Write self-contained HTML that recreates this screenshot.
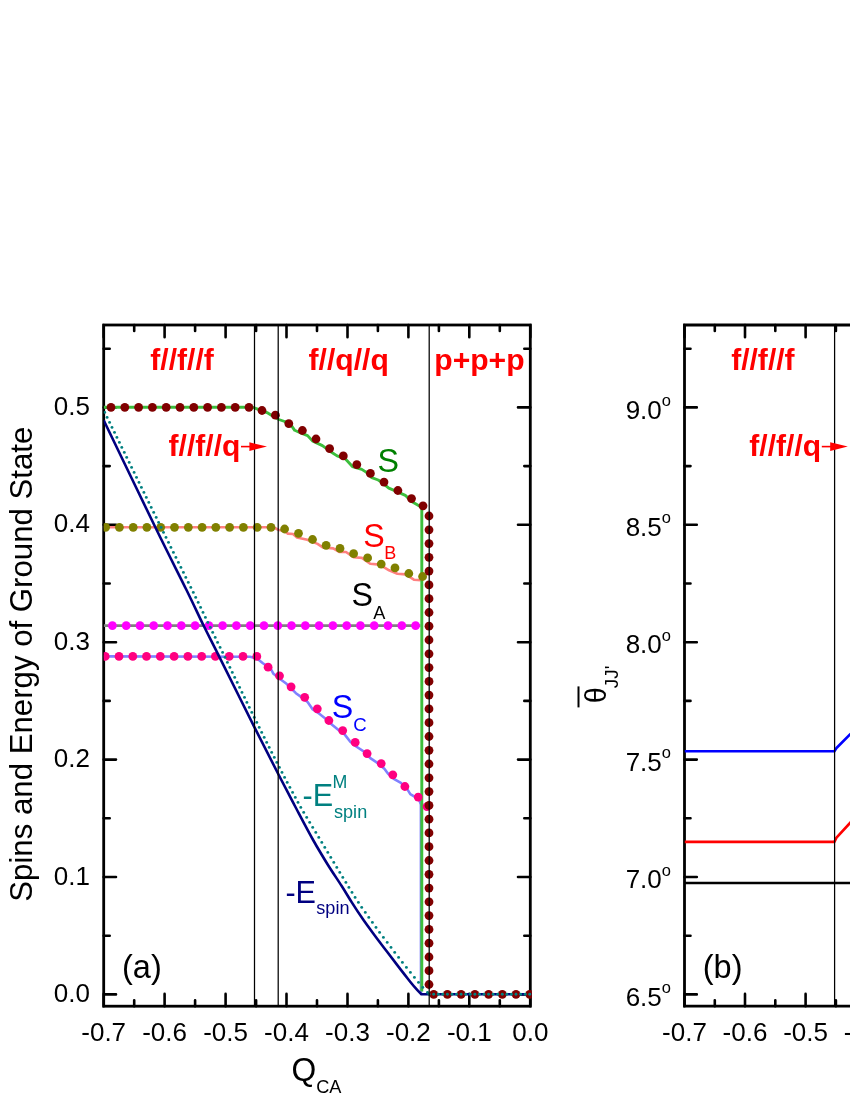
<!DOCTYPE html>
<html><head><meta charset="utf-8"><title>Figure</title>
<style>html,body{margin:0;padding:0;background:#fff}svg{display:block;will-change:transform}text{font-family:"Liberation Sans",sans-serif}</style></head>
<body>
<svg width="850" height="1100" viewBox="0 0 850 1100">
<rect width="850" height="1100" fill="#fff"/>
<defs><clipPath id="ca"><rect x="103.7" y="325.0" width="428.1" height="681.2"/></clipPath>
<clipPath id="cb"><rect x="684.5" y="325.0" width="200" height="681.2"/></clipPath></defs>
<rect x="103.7" y="325.0" width="426.6" height="681.2" fill="none" stroke="#000" stroke-width="2.8"/>
<path d="M103.7 325.0 v12.3 M103.7 1006.2 v-12.3 M134.2 325.0 v6.0 M134.2 1006.2 v-6.0 M164.6 325.0 v12.3 M164.6 1006.2 v-12.3 M195.1 325.0 v6.0 M195.1 1006.2 v-6.0 M225.6 325.0 v12.3 M225.6 1006.2 v-12.3 M256.1 325.0 v6.0 M256.1 1006.2 v-6.0 M286.5 325.0 v12.3 M286.5 1006.2 v-12.3 M317.0 325.0 v6.0 M317.0 1006.2 v-6.0 M347.5 325.0 v12.3 M347.5 1006.2 v-12.3 M377.9 325.0 v6.0 M377.9 1006.2 v-6.0 M408.4 325.0 v12.3 M408.4 1006.2 v-12.3 M438.9 325.0 v6.0 M438.9 1006.2 v-6.0 M469.3 325.0 v12.3 M469.3 1006.2 v-12.3 M499.8 325.0 v6.0 M499.8 1006.2 v-6.0 M530.3 325.0 v12.3 M530.3 1006.2 v-12.3 M103.7 994.4 h12.3 M530.3 994.4 h-12.3 M103.7 935.7 h6.0 M530.3 935.7 h-6.0 M103.7 877.0 h12.3 M530.3 877.0 h-12.3 M103.7 818.3 h6.0 M530.3 818.3 h-6.0 M103.7 759.6 h12.3 M530.3 759.6 h-12.3 M103.7 700.9 h6.0 M530.3 700.9 h-6.0 M103.7 642.2 h12.3 M530.3 642.2 h-12.3 M103.7 583.5 h6.0 M530.3 583.5 h-6.0 M103.7 524.8 h12.3 M530.3 524.8 h-12.3 M103.7 466.1 h6.0 M530.3 466.1 h-6.0 M103.7 407.4 h12.3 M530.3 407.4 h-12.3 M103.7 348.7 h6.0 M530.3 348.7 h-6.0" stroke="#000" stroke-width="2.6" fill="none" stroke-linecap="round"/>
<g clip-path="url(#ca)">
<path d="M103.7 625.6 L420.5 625.6" stroke="#808080" stroke-width="2.6" fill="none" stroke-linejoin="round"/>
<path d="M103.7 527.3 L273.6 527.3 L278.8 530.0 L284.0 530.6 L287.9 533.6 L293.0 534.0 L297.0 537.4 L307.3 539.8 L317.6 543.9 L322.8 547.5 L333.2 548.4 L339.6 552.0 L346.0 552.0 L353.6 557.3 L361.9 557.9 L370.2 563.8 L379.6 564.6 L389.1 570.3 L397.4 573.8 L405.6 574.4 L413.9 579.7 L421.0 580.3" stroke="#FF8080" stroke-width="2.6" fill="none" stroke-linejoin="round"/>
<path d="M103.7 656.4 L250.0 656.8 L257.0 658.5 L262.9 663.2 L270.6 668.5 L273.5 673.8 L279.4 678.5 L286.5 683.8 L292.4 689.7 L295.9 693.2 L301.8 697.4 L307.6 702.1 L312.4 709.1 L317.1 712.1 L325.3 718.5 L332.4 725.0 L339.4 730.8 L344.4 734.1 L350.3 741.8 L356.2 746.5 L364.4 751.8 L370.3 758.2 L377.4 762.9 L384.4 768.8 L387.9 773.5 L393.8 778.8 L400.9 782.9 L407.4 789.4 L410.3 794.1 L416.2 797.6 L419.7 801.2 L420.9 804.7 L421.0 994.4" stroke="#8080FF" stroke-width="2.6" fill="none" stroke-linejoin="round"/>
<path d="M103.7 407.3 L253.0 407.3 L257.6 409.1 L267.0 412.6 L271.8 415.6 L278.8 419.5 L284.7 421.5 L291.8 426.2 L294.7 430.3 L301.2 433.2 L307.6 435.6 L312.4 440.9 L322.4 445.6 L330.0 451.2 L337.1 455.9 L345.3 458.8 L352.4 466.5 L361.8 469.4 L366.5 472.4 L371.8 477.6 L378.2 480.0 L381.8 482.4 L388.8 488.2 L395.9 491.2 L405.3 495.3 L411.2 501.2 L419.4 505.9 L421.8 507.6 L421.8 991.5" stroke="#3CBE3C" stroke-width="2.9" fill="none" stroke-linejoin="round"/>
<g fill="#FF00FF"><circle cx="112.4" cy="625.6" r="4.4"/><circle cx="126.2" cy="625.6" r="4.4"/><circle cx="140.0" cy="625.6" r="4.4"/><circle cx="153.7" cy="625.6" r="4.4"/><circle cx="167.5" cy="625.6" r="4.4"/><circle cx="181.3" cy="625.6" r="4.4"/><circle cx="195.1" cy="625.6" r="4.4"/><circle cx="208.9" cy="625.6" r="4.4"/><circle cx="222.6" cy="625.6" r="4.4"/><circle cx="236.4" cy="625.6" r="4.4"/><circle cx="250.2" cy="625.6" r="4.4"/><circle cx="264.0" cy="625.6" r="4.4"/><circle cx="277.8" cy="625.6" r="4.4"/><circle cx="291.5" cy="625.6" r="4.4"/><circle cx="305.3" cy="625.6" r="4.4"/><circle cx="319.1" cy="625.6" r="4.4"/><circle cx="332.9" cy="625.6" r="4.4"/><circle cx="346.7" cy="625.6" r="4.4"/><circle cx="360.4" cy="625.6" r="4.4"/><circle cx="374.2" cy="625.6" r="4.4"/><circle cx="388.0" cy="625.6" r="4.4"/><circle cx="401.8" cy="625.6" r="4.4"/><circle cx="415.6" cy="625.6" r="4.4"/></g>
<g fill="#808000"><circle cx="105.6" cy="527.3" r="4.4"/><circle cx="119.4" cy="527.3" r="4.4"/><circle cx="133.2" cy="527.3" r="4.4"/><circle cx="146.9" cy="527.3" r="4.4"/><circle cx="160.7" cy="527.3" r="4.4"/><circle cx="174.5" cy="527.3" r="4.4"/><circle cx="188.3" cy="527.3" r="4.4"/><circle cx="202.1" cy="527.3" r="4.4"/><circle cx="215.8" cy="527.3" r="4.4"/><circle cx="229.6" cy="527.3" r="4.4"/><circle cx="243.4" cy="527.3" r="4.4"/><circle cx="257.2" cy="527.3" r="4.4"/><circle cx="271.0" cy="527.3" r="4.4"/><circle cx="284.6" cy="529.0" r="4.4"/><circle cx="298.5" cy="533.3" r="4.4"/><circle cx="312.5" cy="539.5" r="4.4"/><circle cx="326.1" cy="545.3" r="4.4"/><circle cx="340.0" cy="548.4" r="4.4"/><circle cx="353.6" cy="553.7" r="4.4"/><circle cx="367.6" cy="557.9" r="4.4"/><circle cx="381.2" cy="564.1" r="4.4"/><circle cx="395.0" cy="567.9" r="4.4"/><circle cx="408.8" cy="573.5" r="4.4"/><circle cx="422.6" cy="576.5" r="4.4"/></g>
<g fill="#FF0080"><circle cx="105.2" cy="656.4" r="4.4"/><circle cx="119.0" cy="656.4" r="4.4"/><circle cx="132.8" cy="656.4" r="4.4"/><circle cx="146.5" cy="656.4" r="4.4"/><circle cx="160.3" cy="656.4" r="4.4"/><circle cx="174.1" cy="656.4" r="4.4"/><circle cx="187.9" cy="656.4" r="4.4"/><circle cx="201.7" cy="656.4" r="4.4"/><circle cx="215.4" cy="656.4" r="4.4"/><circle cx="229.2" cy="656.4" r="4.4"/><circle cx="243.0" cy="656.4" r="4.4"/><circle cx="256.8" cy="656.4" r="4.4"/><circle cx="268.1" cy="667.2" r="4.4"/><circle cx="279.5" cy="675.8" r="4.4"/><circle cx="291.1" cy="686.8" r="4.4"/><circle cx="304.7" cy="697.3" r="4.4"/><circle cx="317.3" cy="708.8" r="4.4"/><circle cx="328.9" cy="720.5" r="4.4"/><circle cx="342.7" cy="730.6" r="4.4"/><circle cx="355.2" cy="742.4" r="4.4"/><circle cx="367.1" cy="753.6" r="4.4"/><circle cx="381.2" cy="763.6" r="4.4"/><circle cx="392.8" cy="774.8" r="4.4"/><circle cx="404.9" cy="786.5" r="4.4"/><circle cx="418.2" cy="797.1" r="4.4"/><circle cx="427.0" cy="806.6" r="4.4"/></g>
<path d="M103.7 420.2 C112.3 438.0 141.4 498.7 155.2 527.0 C169.0 555.3 178.4 573.5 186.5 590.0 C194.6 606.5 198.3 614.8 203.7 625.8 C209.1 636.8 210.6 639.4 219.1 656.3 C227.6 673.2 244.6 707.7 254.5 727.4 C264.4 747.1 271.5 760.9 278.5 774.5 C285.5 788.1 290.7 798.0 296.5 809.0 C302.3 820.0 308.2 831.3 313.4 840.5 C318.6 849.7 322.8 856.6 327.5 864.2 C332.2 871.8 337.6 879.6 341.7 886.0 C345.8 892.4 348.2 896.7 351.8 902.4 C355.4 908.1 359.6 914.4 363.5 920.0 C367.4 925.6 371.4 930.9 375.3 936.2 C379.2 941.5 383.2 946.6 387.1 951.8 C391.0 956.9 394.9 962.0 398.8 967.1 C402.7 972.2 407.7 978.5 410.6 982.2 C413.6 985.9 414.7 987.2 416.5 989.2 C418.3 991.2 420.6 993.4 421.4 994.3 L540 994.3" stroke="#000080" stroke-width="2.6" fill="none" stroke-linejoin="round"/>
<g fill="#800000"><circle cx="111.0" cy="407.3" r="4.4"/><circle cx="124.8" cy="407.3" r="4.4"/><circle cx="138.6" cy="407.3" r="4.4"/><circle cx="152.4" cy="407.3" r="4.4"/><circle cx="166.2" cy="407.3" r="4.4"/><circle cx="180.0" cy="407.3" r="4.4"/><circle cx="193.8" cy="407.3" r="4.4"/><circle cx="207.6" cy="407.3" r="4.4"/><circle cx="221.4" cy="407.3" r="4.4"/><circle cx="235.2" cy="407.3" r="4.4"/><circle cx="249.0" cy="407.3" r="4.4"/><circle cx="262.0" cy="410.5" r="4.4"/><circle cx="275.4" cy="415.2" r="4.4"/><circle cx="288.8" cy="423.6" r="4.4"/><circle cx="302.4" cy="430.5" r="4.4"/><circle cx="316.0" cy="439.0" r="4.4"/><circle cx="329.6" cy="448.6" r="4.4"/><circle cx="343.3" cy="455.9" r="4.4"/><circle cx="356.8" cy="464.6" r="4.4"/><circle cx="370.4" cy="473.4" r="4.4"/><circle cx="384.0" cy="482.1" r="4.4"/><circle cx="397.9" cy="490.5" r="4.4"/><circle cx="411.5" cy="498.6" r="4.4"/><circle cx="423.0" cy="505.8" r="4.4"/><circle cx="429.0" cy="516.0" r="4.4"/><circle cx="429.0" cy="529.8" r="4.4"/><circle cx="429.0" cy="543.6" r="4.4"/><circle cx="429.0" cy="557.3" r="4.4"/><circle cx="429.0" cy="571.1" r="4.4"/><circle cx="429.0" cy="584.9" r="4.4"/><circle cx="429.0" cy="598.7" r="4.4"/><circle cx="429.0" cy="612.5" r="4.4"/><circle cx="429.0" cy="626.2" r="4.4"/><circle cx="429.0" cy="640.0" r="4.4"/><circle cx="429.0" cy="653.8" r="4.4"/><circle cx="429.0" cy="667.6" r="4.4"/><circle cx="429.0" cy="681.4" r="4.4"/><circle cx="429.0" cy="695.1" r="4.4"/><circle cx="429.0" cy="708.9" r="4.4"/><circle cx="429.0" cy="722.7" r="4.4"/><circle cx="429.0" cy="736.5" r="4.4"/><circle cx="429.0" cy="750.3" r="4.4"/><circle cx="429.0" cy="764.0" r="4.4"/><circle cx="429.0" cy="777.8" r="4.4"/><circle cx="429.0" cy="791.6" r="4.4"/><circle cx="429.0" cy="805.4" r="4.4"/><circle cx="429.0" cy="819.2" r="4.4"/><circle cx="429.0" cy="832.9" r="4.4"/><circle cx="429.0" cy="846.7" r="4.4"/><circle cx="429.0" cy="860.5" r="4.4"/><circle cx="429.0" cy="874.3" r="4.4"/><circle cx="429.0" cy="888.1" r="4.4"/><circle cx="429.0" cy="901.8" r="4.4"/><circle cx="429.0" cy="915.6" r="4.4"/><circle cx="429.0" cy="929.4" r="4.4"/><circle cx="429.0" cy="943.2" r="4.4"/><circle cx="429.0" cy="957.0" r="4.4"/><circle cx="429.0" cy="970.7" r="4.4"/><circle cx="429.0" cy="984.5" r="4.4"/><circle cx="433.7" cy="994.3" r="4.4"/><circle cx="447.4" cy="994.3" r="4.4"/><circle cx="461.1" cy="994.3" r="4.4"/><circle cx="474.9" cy="994.3" r="4.4"/><circle cx="488.6" cy="994.3" r="4.4"/><circle cx="502.3" cy="994.3" r="4.4"/><circle cx="516.0" cy="994.3" r="4.4"/><circle cx="529.7" cy="994.3" r="4.4"/></g>
<g fill="#008080"><circle cx="104.7" cy="412.4" r="1.45"/><circle cx="107.1" cy="417.4" r="1.45"/><circle cx="109.6" cy="422.4" r="1.45"/><circle cx="112.0" cy="427.4" r="1.45"/><circle cx="114.5" cy="432.4" r="1.45"/><circle cx="116.9" cy="437.4" r="1.45"/><circle cx="119.4" cy="442.4" r="1.45"/><circle cx="121.8" cy="447.4" r="1.45"/><circle cx="124.3" cy="452.4" r="1.45"/><circle cx="126.7" cy="457.4" r="1.45"/><circle cx="129.2" cy="462.4" r="1.45"/><circle cx="131.6" cy="467.4" r="1.45"/><circle cx="134.1" cy="472.4" r="1.45"/><circle cx="136.5" cy="477.4" r="1.45"/><circle cx="139.0" cy="482.4" r="1.45"/><circle cx="141.4" cy="487.4" r="1.45"/><circle cx="143.9" cy="492.4" r="1.45"/><circle cx="146.3" cy="497.4" r="1.45"/><circle cx="148.8" cy="502.4" r="1.45"/><circle cx="151.2" cy="507.4" r="1.45"/><circle cx="153.7" cy="512.4" r="1.45"/><circle cx="156.2" cy="517.4" r="1.45"/><circle cx="158.6" cy="522.4" r="1.45"/><circle cx="161.1" cy="527.4" r="1.45"/><circle cx="163.5" cy="532.4" r="1.45"/><circle cx="166.0" cy="537.4" r="1.45"/><circle cx="168.5" cy="542.4" r="1.45"/><circle cx="170.9" cy="547.4" r="1.45"/><circle cx="173.4" cy="552.4" r="1.45"/><circle cx="175.9" cy="557.4" r="1.45"/><circle cx="178.4" cy="562.4" r="1.45"/><circle cx="180.9" cy="567.4" r="1.45"/><circle cx="183.4" cy="572.4" r="1.45"/><circle cx="185.8" cy="577.4" r="1.45"/><circle cx="188.3" cy="582.4" r="1.45"/><circle cx="190.8" cy="587.4" r="1.45"/><circle cx="193.3" cy="592.4" r="1.45"/><circle cx="195.7" cy="597.4" r="1.45"/><circle cx="198.2" cy="602.4" r="1.45"/><circle cx="200.6" cy="607.4" r="1.45"/><circle cx="203.0" cy="612.4" r="1.45"/><circle cx="205.4" cy="617.4" r="1.45"/><circle cx="207.8" cy="622.4" r="1.45"/><circle cx="210.3" cy="627.4" r="1.45"/><circle cx="212.7" cy="632.4" r="1.45"/><circle cx="215.2" cy="637.4" r="1.45"/><circle cx="217.6" cy="642.4" r="1.45"/><circle cx="220.1" cy="647.4" r="1.45"/><circle cx="222.6" cy="652.4" r="1.45"/><circle cx="225.0" cy="657.4" r="1.45"/><circle cx="227.4" cy="662.4" r="1.45"/><circle cx="229.9" cy="667.4" r="1.45"/><circle cx="232.3" cy="672.4" r="1.45"/><circle cx="234.7" cy="677.4" r="1.45"/><circle cx="237.2" cy="682.4" r="1.45"/><circle cx="239.6" cy="687.4" r="1.45"/><circle cx="242.0" cy="692.4" r="1.45"/><circle cx="244.5" cy="697.4" r="1.45"/><circle cx="246.9" cy="702.4" r="1.45"/><circle cx="249.3" cy="707.4" r="1.45"/><circle cx="251.8" cy="712.4" r="1.45"/><circle cx="254.3" cy="717.4" r="1.45"/><circle cx="256.8" cy="722.4" r="1.45"/><circle cx="259.2" cy="727.4" r="1.45"/><circle cx="261.7" cy="732.4" r="1.45"/><circle cx="264.2" cy="737.4" r="1.45"/><circle cx="266.7" cy="742.4" r="1.45"/><circle cx="269.2" cy="747.4" r="1.45"/><circle cx="271.7" cy="752.4" r="1.45"/><circle cx="274.3" cy="757.4" r="1.45"/><circle cx="276.8" cy="762.4" r="1.45"/><circle cx="279.4" cy="767.4" r="1.45"/><circle cx="282.0" cy="772.4" r="1.45"/><circle cx="284.6" cy="777.4" r="1.45"/><circle cx="287.2" cy="782.4" r="1.45"/><circle cx="289.9" cy="787.4" r="1.45"/><circle cx="292.6" cy="792.4" r="1.45"/><circle cx="295.3" cy="797.4" r="1.45"/><circle cx="298.0" cy="802.4" r="1.45"/><circle cx="300.8" cy="807.4" r="1.45"/><circle cx="303.7" cy="812.4" r="1.45"/><circle cx="306.7" cy="817.4" r="1.45"/><circle cx="309.7" cy="822.4" r="1.45"/><circle cx="312.7" cy="827.4" r="1.45"/><circle cx="315.8" cy="832.4" r="1.45"/><circle cx="318.8" cy="837.4" r="1.45"/><circle cx="321.8" cy="842.4" r="1.45"/><circle cx="324.8" cy="847.4" r="1.45"/><circle cx="327.8" cy="852.4" r="1.45"/><circle cx="330.8" cy="857.4" r="1.45"/><circle cx="333.8" cy="862.4" r="1.45"/><circle cx="336.8" cy="867.4" r="1.45"/><circle cx="339.8" cy="872.4" r="1.45"/><circle cx="342.8" cy="877.4" r="1.45"/><circle cx="345.9" cy="882.4" r="1.45"/><circle cx="348.9" cy="887.4" r="1.45"/><circle cx="352.0" cy="892.4" r="1.45"/><circle cx="355.1" cy="897.4" r="1.45"/><circle cx="358.4" cy="902.4" r="1.45"/><circle cx="361.7" cy="907.4" r="1.45"/><circle cx="365.3" cy="912.4" r="1.45"/><circle cx="368.8" cy="917.4" r="1.45"/><circle cx="372.4" cy="922.4" r="1.45"/><circle cx="376.0" cy="927.4" r="1.45"/><circle cx="379.6" cy="932.4" r="1.45"/><circle cx="383.4" cy="937.4" r="1.45"/><circle cx="387.2" cy="942.4" r="1.45"/><circle cx="391.0" cy="947.4" r="1.45"/><circle cx="394.7" cy="952.4" r="1.45"/><circle cx="398.6" cy="957.4" r="1.45"/><circle cx="402.4" cy="962.4" r="1.45"/><circle cx="406.4" cy="967.4" r="1.45"/><circle cx="410.4" cy="972.4" r="1.45"/><circle cx="414.4" cy="977.4" r="1.45"/><circle cx="418.5" cy="982.4" r="1.45"/><circle cx="422.8" cy="987.4" r="1.45"/><circle cx="427.5" cy="992.4" r="1.45"/><circle cx="429.1" cy="994.3" r="1.45"/><circle cx="433.7" cy="994.3" r="1.45"/><circle cx="438.3" cy="994.3" r="1.45"/><circle cx="442.8" cy="994.3" r="1.45"/><circle cx="447.4" cy="994.3" r="1.45"/><circle cx="452.0" cy="994.3" r="1.45"/><circle cx="456.6" cy="994.3" r="1.45"/><circle cx="461.1" cy="994.3" r="1.45"/><circle cx="465.7" cy="994.3" r="1.45"/><circle cx="470.3" cy="994.3" r="1.45"/><circle cx="474.9" cy="994.3" r="1.45"/><circle cx="479.4" cy="994.3" r="1.45"/><circle cx="484.0" cy="994.3" r="1.45"/><circle cx="488.6" cy="994.3" r="1.45"/><circle cx="493.1" cy="994.3" r="1.45"/><circle cx="497.7" cy="994.3" r="1.45"/><circle cx="502.3" cy="994.3" r="1.45"/><circle cx="506.9" cy="994.3" r="1.45"/><circle cx="511.4" cy="994.3" r="1.45"/><circle cx="516.0" cy="994.3" r="1.45"/><circle cx="520.6" cy="994.3" r="1.45"/><circle cx="525.2" cy="994.3" r="1.45"/><circle cx="529.7" cy="994.3" r="1.45"/></g>
</g>
<path d="M254.5 325.0 V1006.2" stroke="#000" stroke-width="1.25"/>
<path d="M278.2 325.0 V1006.2" stroke="#000" stroke-width="1.25"/>
<path d="M429.2 325.0 V1006.2" stroke="#000" stroke-width="1.25"/>
<text x="103.7" y="1040.6" font-size="26.0" text-anchor="middle" font-family="Liberation Sans, sans-serif">-0.7</text>
<text x="164.6" y="1040.6" font-size="26.0" text-anchor="middle" font-family="Liberation Sans, sans-serif">-0.6</text>
<text x="225.6" y="1040.6" font-size="26.0" text-anchor="middle" font-family="Liberation Sans, sans-serif">-0.5</text>
<text x="286.5" y="1040.6" font-size="26.0" text-anchor="middle" font-family="Liberation Sans, sans-serif">-0.4</text>
<text x="347.5" y="1040.6" font-size="26.0" text-anchor="middle" font-family="Liberation Sans, sans-serif">-0.3</text>
<text x="408.4" y="1040.6" font-size="26.0" text-anchor="middle" font-family="Liberation Sans, sans-serif">-0.2</text>
<text x="469.3" y="1040.6" font-size="26.0" text-anchor="middle" font-family="Liberation Sans, sans-serif">-0.1</text>
<text x="530.3" y="1040.6" font-size="26.0" text-anchor="middle" font-family="Liberation Sans, sans-serif">0.0</text>
<text x="90" y="1001.9" font-size="26.0" text-anchor="end" font-family="Liberation Sans, sans-serif">0.0</text>
<text x="90" y="884.5" font-size="26.0" text-anchor="end" font-family="Liberation Sans, sans-serif">0.1</text>
<text x="90" y="767.1" font-size="26.0" text-anchor="end" font-family="Liberation Sans, sans-serif">0.2</text>
<text x="90" y="649.7" font-size="26.0" text-anchor="end" font-family="Liberation Sans, sans-serif">0.3</text>
<text x="90" y="532.3" font-size="26.0" text-anchor="end" font-family="Liberation Sans, sans-serif">0.4</text>
<text x="90" y="414.9" font-size="26.0" text-anchor="end" font-family="Liberation Sans, sans-serif">0.5</text>
<text transform="translate(32.2 664.2) rotate(-90)" font-size="31.2" text-anchor="middle" font-family="Liberation Sans, sans-serif">Spins and Energy of Ground State</text>
<text transform="translate(291.4 1081.1) scale(1 1.04)" font-size="31.8" font-family="Liberation Sans, sans-serif">Q</text>
<text x="316.2" y="1093.2" font-size="18.2" font-family="Liberation Sans, sans-serif">CA</text>
<text x="182.1" y="369.5" font-size="30.1" text-anchor="middle" font-family="Liberation Sans, sans-serif" font-weight="bold" fill="#FF0000">f//f//f</text>
<text x="348.7" y="369.5" font-size="30.1" text-anchor="middle" font-family="Liberation Sans, sans-serif" font-weight="bold" fill="#FF0000">f//q//q</text>
<text x="479.4" y="369.5" font-size="30.1" text-anchor="middle" font-family="Liberation Sans, sans-serif" font-weight="bold" fill="#FF0000">p+p+p</text>
<text x="168.5" y="455.9" font-size="30.1" font-family="Liberation Sans, sans-serif" font-weight="bold" fill="#FF0000">f//f//q</text>
<path d="M241 446.6 H252" stroke="#FF0000" stroke-width="1.6"/><path d="M249.4 442.3 L267 446.6 L249.4 450.9 Z" fill="#FF0000"/>
<text transform="translate(377.55 472.10) scale(1 1.04)" font-size="32.2" fill="#008000" font-family="Liberation Sans, sans-serif">S</text>
<text transform="translate(363.35 547.40) scale(1 1.04)" font-size="32.2" fill="#FF0000" font-family="Liberation Sans, sans-serif">S</text>
<text x="384.20" y="559.00" font-size="18.0" fill="#FF0000" font-family="Liberation Sans, sans-serif">B</text>
<text transform="translate(351.55 606.40) scale(1 1.04)" font-size="32.2" fill="#000" font-family="Liberation Sans, sans-serif">S</text>
<text x="373.20" y="618.50" font-size="18.2" fill="#000" font-family="Liberation Sans, sans-serif">A</text>
<text transform="translate(331.75 717.80) scale(1 1.04)" font-size="32.2" fill="#0000FF" font-family="Liberation Sans, sans-serif">S</text>
<text x="353.30" y="730.80" font-size="18.6" fill="#0000FF" font-family="Liberation Sans, sans-serif">C</text>
<text transform="translate(302.5 805.8) scale(1 1.05)" font-size="30.6" fill="#008080" font-family="Liberation Sans, sans-serif">-E</text>
<text x="332.5" y="787.8" font-size="17.8" fill="#008080" font-family="Liberation Sans, sans-serif">M</text>
<text x="334" y="817.6" font-size="18.1" fill="#008080" font-family="Liberation Sans, sans-serif">spin</text>
<text transform="translate(285.4 902.9) scale(1 1.05)" font-size="30.6" fill="#000080" font-family="Liberation Sans, sans-serif">-E</text>
<text x="316.3" y="914.3" font-size="18.1" fill="#000080" font-family="Liberation Sans, sans-serif">spin</text>
<text x="122" y="977.9" font-size="32.5" font-family="Liberation Sans, sans-serif">(a)</text>
<path d="M860 325.0 H684.5 V1006.2 H860" fill="none" stroke="#000" stroke-width="2.8"/>
<path d="M684.5 325.0 v12.3 M684.5 1006.2 v-12.3 M714.8 325.0 v6.0 M714.8 1006.2 v-6.0 M745.0 325.0 v12.3 M745.0 1006.2 v-12.3 M775.3 325.0 v6.0 M775.3 1006.2 v-6.0 M805.6 325.0 v12.3 M805.6 1006.2 v-12.3 M835.9 325.0 v6.0 M835.9 1006.2 v-6.0 M684.5 994.4 h12.3 M684.5 935.7 h6.0 M684.5 877.0 h12.3 M684.5 818.3 h6.0 M684.5 759.6 h12.3 M684.5 700.9 h6.0 M684.5 642.2 h12.3 M684.5 583.5 h6.0 M684.5 524.8 h12.3 M684.5 466.1 h6.0 M684.5 407.4 h12.3 M684.5 348.7 h6.0" stroke="#000" stroke-width="2.6" fill="none" stroke-linecap="round"/>
<g clip-path="url(#cb)">
<path d="M684.5 883 H860" stroke="#000" stroke-width="2.6" fill="none"/>
<path d="M684.5 841.9 H834.4 L836.5 837.6 L850 823 L860 812" stroke="#FF0000" stroke-width="2.6" fill="none" stroke-linejoin="round"/>
<path d="M684.5 751.2 H834.4 L836.5 748 L850 734.5 L860 724.5" stroke="#0000FF" stroke-width="2.6" fill="none" stroke-linejoin="round"/>
</g>
<path d="M834.6 325.0 V1006.2" stroke="#000" stroke-width="1.25"/>
<text x="684.5" y="1040.6" font-size="26.0" text-anchor="middle" font-family="Liberation Sans, sans-serif">-0.7</text>
<text x="745.0" y="1040.6" font-size="26.0" text-anchor="middle" font-family="Liberation Sans, sans-serif">-0.6</text>
<text x="805.6" y="1040.6" font-size="26.0" text-anchor="middle" font-family="Liberation Sans, sans-serif">-0.5</text>
<text x="866.1" y="1040.6" font-size="26.0" text-anchor="middle" font-family="Liberation Sans, sans-serif">-0.4</text>
<text x="671" y="1005.5" font-size="26.0" text-anchor="end" font-family="Liberation Sans, sans-serif">6.5<tspan font-size="16.5" dy="-12.6">o</tspan></text>
<text x="671" y="888.1" font-size="26.0" text-anchor="end" font-family="Liberation Sans, sans-serif">7.0<tspan font-size="16.5" dy="-12.6">o</tspan></text>
<text x="671" y="770.7" font-size="26.0" text-anchor="end" font-family="Liberation Sans, sans-serif">7.5<tspan font-size="16.5" dy="-12.6">o</tspan></text>
<text x="671" y="653.3" font-size="26.0" text-anchor="end" font-family="Liberation Sans, sans-serif">8.0<tspan font-size="16.5" dy="-12.6">o</tspan></text>
<text x="671" y="535.9" font-size="26.0" text-anchor="end" font-family="Liberation Sans, sans-serif">8.5<tspan font-size="16.5" dy="-12.6">o</tspan></text>
<text x="671" y="418.5" font-size="26.0" text-anchor="end" font-family="Liberation Sans, sans-serif">9.0<tspan font-size="16.5" dy="-12.6">o</tspan></text>
<text x="182.1" y="369.5" font-size="30.1" text-anchor="middle" transform="translate(580.8 0)" font-family="Liberation Sans, sans-serif" font-weight="bold" fill="#FF0000">f//f//f</text>
<text x="749.3" y="455.9" font-size="30.1" font-family="Liberation Sans, sans-serif" font-weight="bold" fill="#FF0000">f//f//q</text>
<g transform="translate(580.8 0)"><path d="M241 446.6 H252" stroke="#FF0000" stroke-width="1.6"/><path d="M249.4 442.3 L267 446.6 L249.4 450.9 Z" fill="#FF0000"/></g>
<text x="702.8" y="977.9" font-size="32.5" font-family="Liberation Sans, sans-serif">(b)</text>
<g transform="translate(605.9 703.2) rotate(-90)"><text x="0" y="0" font-size="28.8" font-family="Liberation Sans, sans-serif">θ</text><text x="14.9" y="12.4" font-size="19" font-family="Liberation Sans, sans-serif">JJ'</text><path d="M-4.2 -27.4 H16.8" stroke="#000" stroke-width="2"/></g>
</svg>
</body></html>
